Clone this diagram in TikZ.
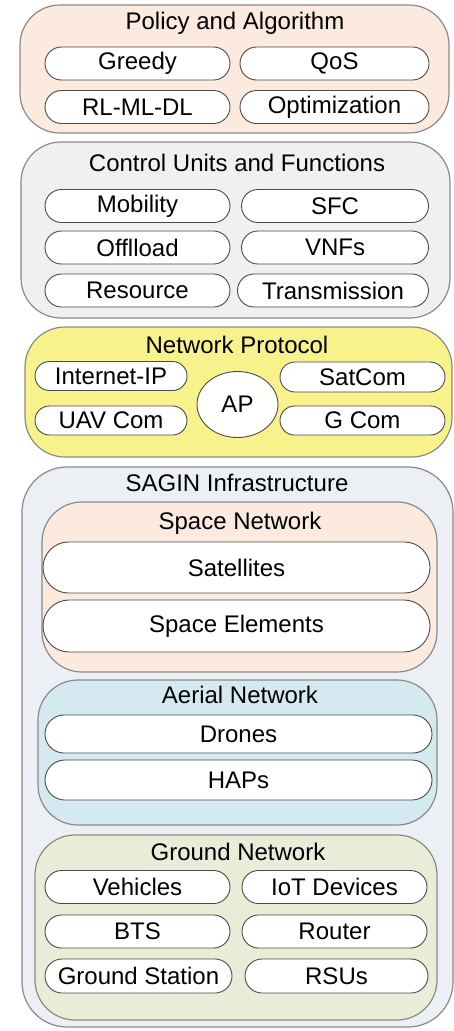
\documentclass[tikz,border=0pt]{standalone}
\usepackage{fontspec}
\setmainfont{Liberation Sans}
\usetikzlibrary{shapes.misc,shapes.geometric}

\definecolor{linegray}{HTML}{8A8A8A}
\definecolor{pillgray}{HTML}{4A4A4A}
\definecolor{policyfill}{HTML}{FBEADD}
\definecolor{controlfill}{HTML}{F0F0F0}
\definecolor{protocolfill}{HTML}{F8F28C}
\definecolor{saginfill}{HTML}{ECEFF4}
\definecolor{spacefill}{HTML}{FBEADD}
\definecolor{aerialfill}{HTML}{D5EAF0}
\definecolor{groundfill}{HTML}{E9ECD6}

\begin{document}
\begin{tikzpicture}[x=1pt,y=-1pt,
    layer/.style={draw=linegray, line width=1.2pt, rounded corners=40pt, inner sep=0pt},
    pill/.style={draw=pillgray, line width=0.9pt, fill=white, rounded rectangle, inner sep=0pt,
        minimum height=33pt, font=\fontsize{24}{28}\selectfont},
    heading/.style={inner sep=0pt, font=\fontsize{24}{28}\selectfont}]
    \useasboundingbox (0,0) rectangle (454,1031);

    % Policy and algorithm layer
    \node[layer, fill=policyfill, minimum width=429pt, minimum height=128pt] (policy) at (234.5,69) {};
    \node[heading] (policy-t) at (235,23) {Policy and Algorithm};
    \node[pill, minimum width=185pt] (greedy) at (137.5,63.5) {Greedy};
    \node[pill, minimum width=189pt] (qos) at (334.5,63.5) {QoS};
    \node[pill, minimum width=185pt] (rlmldl) at (137.5,107) {RL-ML-DL};
    \node[pill, minimum width=189pt] (optim) at (334.5,107) {Optimization};

    % Control units and functions layer
    \node[layer, fill=controlfill, minimum width=429pt, minimum height=176pt] (control) at (235.5,230) {};
    \node[heading] (control-t) at (237,163) {Control Units and Functions};
    \node[pill, minimum width=185pt] (mobility) at (137.5,206) {Mobility};
    \node[pill, minimum width=187pt] (sfc) at (335,206) {SFC};
    \node[pill, minimum width=185pt] (offload) at (137.5,247.5) {Offlload};
    \node[pill, minimum width=187pt] (vnfs) at (335,247.5) {VNFs};
    \node[pill, minimum width=185pt] (resource) at (137.5,290.5) {Resource};
    \node[pill, minimum width=191pt] (transm) at (333,290.5) {Transmission};

    % Network protocol layer
    \node[layer, fill=protocolfill, minimum width=427pt, minimum height=130pt] (protocol) at (238.5,392) {};
    \node[heading] (protocol-t) at (237,345) {Network Protocol};
    \node[pill, minimum width=152pt, minimum height=29pt] (inetip) at (111,376) {Internet-IP};
    \node[pill, minimum width=152pt, minimum height=29pt] (uavcom) at (111,420.5) {UAV Com};
    \node[ellipse, draw=pillgray, line width=0.9pt, fill=white, inner sep=0pt,
        minimum width=81pt, minimum height=66pt, font=\fontsize{24}{28}\selectfont] (ap) at (237.5,404.5) {AP};
    \node[pill, minimum width=165pt, minimum height=30pt] (satcom) at (362.5,377) {SatCom};
    \node[pill, minimum width=165pt, minimum height=29pt] (gcom) at (362.5,420.5) {G Com};

    % SAGIN infrastructure layer
    \node[layer, fill=saginfill, rounded corners=45pt, minimum width=431pt, minimum height=560pt] (sagin) at (237.5,747) {};
    \node[heading] (sagin-t) at (237,483) {SAGIN Infrastructure};

    % Space network
    \node[layer, fill=spacefill, minimum width=395pt, minimum height=170pt] (space) at (239.5,587) {};
    \node[heading] (space-t) at (240,523) {Space Network};
    \node[pill, minimum width=387pt, minimum height=51pt] (sats) at (236.5,567.5) {Satellites};
    \node[pill, minimum width=387pt, minimum height=52pt] (spelem) at (236.5,626) {Space Elements};

    % Aerial network
    \node[layer, fill=aerialfill, minimum width=399pt, minimum height=145pt] (aerial) at (237.5,752.5) {};
    \node[heading] (aerial-t) at (240,695) {Aerial Network};
    \node[pill, minimum width=387pt, minimum height=38pt] (drones) at (238.5,734) {Drones};
    \node[pill, minimum width=387pt, minimum height=40pt] (haps) at (238.5,780) {HAPs};

    % Ground network
    \node[layer, fill=groundfill, minimum width=402pt, minimum height=185pt] (ground) at (236,927.5) {};
    \node[heading] (ground-t) at (238,852) {Ground Network};
    \node[pill, minimum width=185pt] (vehicles) at (137.5,887) {Vehicles};
    \node[pill, minimum width=185pt] (iot) at (334.5,887) {IoT Devices};
    \node[pill, minimum width=185pt] (bts) at (137.5,931.5) {BTS};
    \node[pill, minimum width=185pt] (router) at (334.5,931.5) {Router};
    \node[pill, minimum width=187pt, minimum height=34pt] (gstation) at (138.5,976) {Ground Station};
    \node[pill, minimum width=183pt, minimum height=34pt] (rsus) at (336.5,976) {RSUs};
\end{tikzpicture}
\end{document}
